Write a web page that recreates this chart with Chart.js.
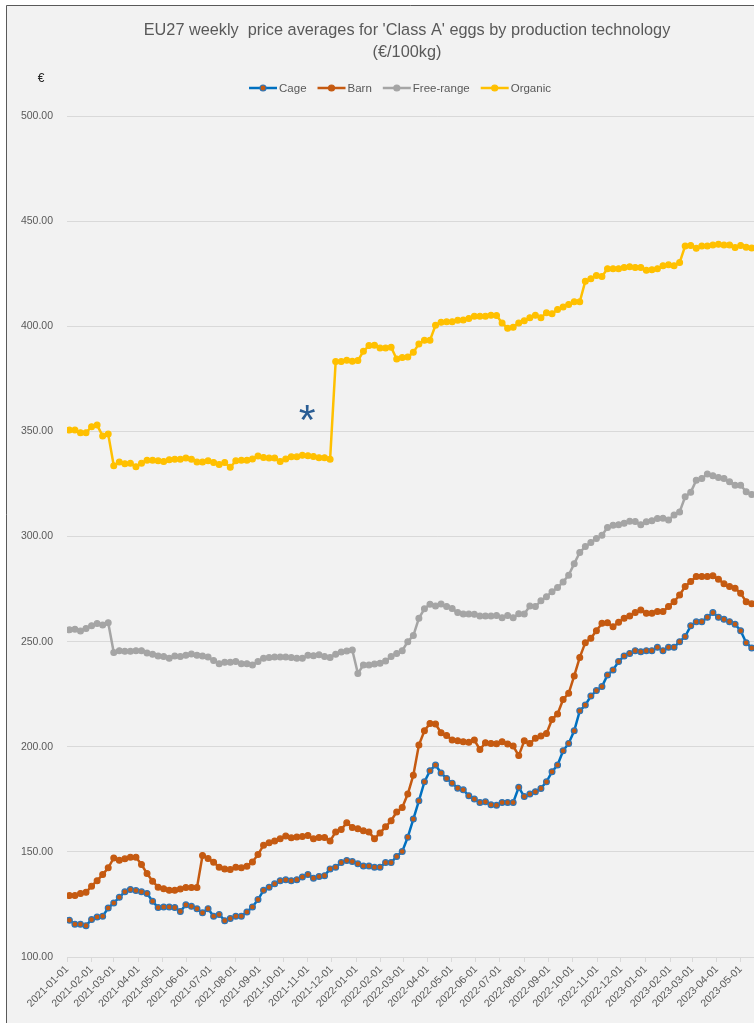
<!DOCTYPE html>
<html>
<head>
<meta charset="utf-8">
<script src="https://cdn.jsdelivr.net/npm/chart.js@4.4.1/dist/chart.umd.min.js"></script>
<style>
  html, body { margin: 0; padding: 0; background: #fff; overflow: hidden; width: 754px; height: 1023px; }
  canvas { display: block; }
</style>
</head>
<body>
<canvas id="eggChart" width="814" height="1023"></canvas>
<script>
// weekly series, first point is the week of 2021-01-04
const FIRST_WEEK = "2021-01-04";

const monthLabels = [
  "2021-01-01", "2021-02-01", "2021-03-01", "2021-04-01", "2021-05-01", "2021-06-01",
  "2021-07-01", "2021-08-01", "2021-09-01", "2021-10-01", "2021-11-01", "2021-12-01",
  "2022-01-01", "2022-02-01", "2022-03-01", "2022-04-01", "2022-05-01", "2022-06-01",
  "2022-07-01", "2022-08-01", "2022-09-01", "2022-10-01", "2022-11-01", "2022-12-01",
  "2023-01-01", "2023-02-01", "2023-03-01", "2023-04-01", "2023-05-01",
];

const yTicks = [100, 150, 200, 250, 300, 350, 400, 450, 500];

const cage = [
  117.5, 115.6, 115.6, 114.9, 117.8, 119.0, 119.4, 123.3, 125.7, 128.4,
  131.0, 132.1, 131.6, 131.0, 130.2, 126.5, 123.5, 123.8, 123.8, 123.5,
  121.7, 124.8, 124.1, 122.9, 121.0, 123.0, 119.4, 120.2, 117.3, 118.3,
  119.4, 119.4, 121.4, 123.8, 127.3, 131.7, 133.2, 134.8, 136.3, 136.7,
  136.3, 136.8, 138.0, 139.2, 137.5, 138.3, 138.7, 141.9, 142.7, 144.9,
  145.9, 145.4, 144.3, 143.3, 143.3, 142.7, 142.7, 144.9, 144.9, 147.8,
  150.2, 157.0, 165.6, 174.3, 183.3, 188.6, 191.3, 187.5, 184.9, 182.7,
  180.3, 179.5, 176.7, 175.1, 173.5, 173.8, 172.4, 172.2, 173.5, 173.5,
  173.5, 180.7, 176.3, 177.5, 178.6, 180.2, 183.3, 188.1, 191.3, 198.1,
  201.6, 207.6, 217.1, 219.8, 224.1, 226.7, 228.6, 234.1, 236.5, 240.5,
  243.2, 244.4, 245.7, 245.2, 245.7, 245.7, 247.3, 245.7, 247.3, 247.3,
  250.0, 252.4, 257.5, 259.4, 259.5, 261.6, 263.8, 261.6, 260.6, 259.5,
  258.3, 255.2, 249.5, 247.0,
];

const barn = [
  129.2, 129.2, 130.2, 130.8, 133.7, 136.3, 139.2, 142.4, 147.1, 146.0,
  146.7, 147.5, 147.5, 144.0, 139.7, 136.0, 133.2, 132.5, 131.7, 131.7,
  132.4, 133.0, 133.0, 133.0, 148.3, 146.8, 145.1, 142.7, 141.9, 141.6,
  142.7, 142.4, 143.2, 145.2, 148.7, 153.2, 154.3, 155.2, 156.2, 157.5,
  156.7, 157.1, 157.3, 157.8, 156.2, 156.8, 156.8, 155.2, 159.5, 160.6,
  163.8, 161.6, 161.0, 160.0, 159.4, 156.3, 159.0, 161.9, 164.8, 169.0,
  171.1, 177.5, 186.5, 200.8, 207.6, 211.1, 210.8, 206.7, 205.4, 203.2,
  202.9, 202.4, 202.1, 203.2, 198.7, 201.9, 201.6, 201.4, 202.4, 201.3,
  200.3, 195.8, 202.8, 201.6, 204.0, 205.1, 206.3, 213.0, 215.6, 222.5,
  225.4, 233.7, 242.5, 249.5, 251.6, 255.2, 258.7, 259.0, 257.1, 259.2,
  261.1, 262.2, 263.8, 265.1, 263.5, 263.5, 264.3, 264.3, 266.7, 269.0,
  272.2, 276.2, 278.6, 281.0, 281.0, 281.0, 281.3, 279.7, 277.5, 276.2,
  275.4, 273.0, 269.0, 268.0,
];

const freeRange = [
  255.6, 255.9, 255.1, 256.3, 257.6, 258.6, 257.9, 259.0, 244.8, 245.7,
  245.4, 245.4, 245.7, 245.7, 244.6, 244.0, 243.2, 242.9, 242.1, 243.2,
  242.9, 243.5, 244.1, 243.5, 243.2, 242.7, 241.0, 239.5, 240.2, 240.2,
  240.5, 239.5, 239.5, 238.9, 240.5, 242.1, 242.4, 242.7, 242.7, 242.7,
  242.4, 242.1, 242.1, 243.5, 243.3, 243.7, 242.9, 242.5, 244.0, 245.1,
  245.6, 246.0, 234.9, 238.9, 238.9, 239.4, 239.7, 240.8, 242.9, 244.4,
  245.7, 250.0, 252.9, 261.1, 265.6, 267.8, 267.0, 267.9, 266.7, 265.7,
  263.8, 263.2, 263.2, 263.0, 262.2, 262.2, 262.2, 262.4, 261.4, 262.4,
  261.4, 263.3, 263.1, 267.0, 266.7, 269.4, 271.4, 273.7, 275.7, 278.4,
  281.6, 287.1, 292.4, 295.2, 297.1, 299.0, 300.6, 304.3, 305.4, 305.6,
  306.3, 307.3, 307.1, 305.6, 307.0, 307.5, 308.6, 308.7, 307.9, 310.2,
  311.7, 318.9, 321.0, 326.8, 327.6, 329.7, 328.9, 328.1, 327.6, 326.0,
  324.4, 324.4, 321.3, 320.0,
];

const organic = [
  350.6, 350.6, 349.4, 349.4, 352.2, 353.0, 347.8, 348.7, 333.7, 335.4,
  334.6, 334.8, 333.2, 334.9, 336.3, 336.3, 336.0, 335.7, 336.5, 336.8,
  336.8, 337.3, 336.8, 335.4, 335.4, 336.0, 335.2, 334.3, 335.2, 332.9,
  336.0, 336.3, 336.3, 336.9, 338.3, 337.6, 337.3, 337.3, 335.7, 336.9,
  337.9, 337.9, 338.6, 338.4, 338.1, 337.5, 337.5, 336.8, 383.2, 383.2,
  383.8, 383.3, 383.7, 388.1, 390.8, 391.0, 389.7, 389.7, 390.0, 384.4,
  385.1, 385.4, 387.6, 391.6, 393.3, 393.3, 400.5, 401.9, 402.1, 402.2,
  402.9, 403.0, 403.7, 404.8, 404.8, 404.8, 405.2, 405.1, 401.6, 399.0,
  399.5, 401.6, 402.6, 404.1, 405.2, 404.1, 406.4, 406.0, 408.0, 409.1,
  410.4, 411.6, 411.6, 421.4, 422.6, 424.1, 423.7, 427.4, 427.4, 427.4,
  428.0, 428.3, 428.0, 428.0, 426.6, 426.9, 427.4, 428.8, 429.2, 428.8,
  430.3, 438.2, 438.4, 437.1, 438.2, 438.2, 438.7, 439.0, 438.7, 438.7,
  437.4, 438.4, 437.6, 437.2,
];

const FONT = "'Liberation Sans', Arial, sans-serif";
const TXT = "#595959";

function dayOf(s) {
  const [y, m, d] = s.split("-").map(Number);
  return (Date.UTC(y, m - 1, d) - Date.UTC(2021, 0, 1)) / 86400000;
}

const start = dayOf(FIRST_WEEK);
const monthDays = monthLabels.map(dayOf);
const labelAt = {};
monthLabels.forEach((l, i) => { labelAt[monthDays[i]] = l; });

function pts(vals) {
  return vals.map((v, i) => ({ x: start + i * 7, y: v }));
}

function series(label, values, color, dotFill, dotStroke) {
  return {
    label,
    data: pts(values),
    borderColor: color,
    borderWidth: 2.5,
    pointRadius: 2.9,
    pointBorderWidth: 1.2,
    pointBackgroundColor: dotFill || color,
    pointBorderColor: dotStroke || color,
  };
}

const extras = {
  id: "extras",
  beforeDraw(chart) {
    const { ctx, width, height } = chart;
    ctx.save();
    ctx.fillStyle = "#ffffff";
    ctx.fillRect(0, 0, width, height);
    ctx.fillStyle = "#f2f2f2";
    ctx.fillRect(6, 5, width - 6, height - 5);
    ctx.strokeStyle = "#595959";
    ctx.lineWidth = 1;
    ctx.beginPath();
    ctx.moveTo(6.5, height);
    ctx.lineTo(6.5, 5.5);
    ctx.lineTo(width, 5.5);
    ctx.stroke();
    ctx.restore();
  },
  afterDraw(chart) {
    const { ctx } = chart;
    ctx.save();

    // legend (line + marker, like the spreadsheet one)
    ctx.font = "11.5px " + FONT;
    ctx.textBaseline = "middle";
    ctx.textAlign = "left";
    const sym = 28, gapT = 2, gapI = 11;
    const items = chart.data.datasets.map((ds) => ({
      text: ds.label, line: ds.borderColor, fill: ds.pointBackgroundColor, stroke: ds.pointBorderColor,
    }));
    const widths = items.map((it) => sym + gapT + ctx.measureText(it.text).width);
    const total = widths.reduce((a, b) => a + b, 0) + gapI * (items.length - 1);
    let x = 400 - total / 2;
    const y = 88;
    items.forEach((it, i) => {
      ctx.strokeStyle = it.line;
      ctx.lineWidth = 2.5;
      ctx.beginPath();
      ctx.moveTo(x, y);
      ctx.lineTo(x + sym, y);
      ctx.stroke();
      ctx.beginPath();
      ctx.arc(x + sym / 2, y, 3, 0, Math.PI * 2);
      ctx.fillStyle = it.fill;
      ctx.fill();
      ctx.lineWidth = 1.2;
      ctx.strokeStyle = it.stroke;
      ctx.stroke();
      ctx.fillStyle = TXT;
      ctx.fillText(it.text, x + sym + gapT, y + 0.5);
      x += widths[i] + gapI;
    });

    // unit label above the value axis
    ctx.fillStyle = "#262626";
    ctx.font = "12px " + FONT;
    ctx.textAlign = "center";
    ctx.fillText("€", 41, 79);

    // asterisk marking the organic series break
    const px = chart.scales.x.getPixelForValue(dayOf("2021-10-31"));
    const py = chart.scales.y.getPixelForValue(358.8);
    ctx.textAlign = "left";
    ctx.textBaseline = "alphabetic";
    ctx.font = "100px " + FONT;
    let m = ctx.measureText("*");
    const size = 100 * 16 / (m.actualBoundingBoxRight + m.actualBoundingBoxLeft);
    ctx.font = size + "px " + FONT;
    m = ctx.measureText("*");
    ctx.fillStyle = "#2A5D94";
    ctx.fillText("*",
      px - (m.actualBoundingBoxRight - m.actualBoundingBoxLeft) / 2,
      py - (m.actualBoundingBoxDescent - m.actualBoundingBoxAscent) / 2);
    ctx.restore();
  },
};

new Chart(document.getElementById("eggChart"), {
  type: "line",
  data: {
    datasets: [
      series("Cage", cage, "#0070C0", "#C55A11", "#2E75B6"),
      series("Barn", barn, "#C55A11"),
      series("Free-range", freeRange, "#A5A5A5"),
      series("Organic", organic, "#FFC000"),
    ],
  },
  options: {
    responsive: false,
    animation: false,
    events: [],
    elements: { line: { tension: 0 } },
    layout: { padding: 0 },
    plugins: {
      legend: { display: false },
      tooltip: { enabled: false },
      title: {
        display: true,
        text: ["EU27 weekly  price averages for 'Class A' eggs by production technology", "(€/100kg)"],
        color: TXT,
        font: { family: FONT, size: 16.3, weight: "normal", lineHeight: 1.35 },
        padding: { top: 20, bottom: 52 },
      },
    },
    scales: {
      x: {
        type: "linear",
        min: 0,
        max: 936,
        afterBuildTicks: (scale) => { scale.ticks = monthDays.map((v) => ({ value: v })); },
        afterFit: (scale) => { scale.height = 66; },
        grid: { drawOnChartArea: false, color: "#d9d9d9", tickLength: 5 },
        border: { color: "#d9d9d9" },
        ticks: {
          autoSkip: false,
          maxRotation: 45,
          minRotation: 45,
          padding: 1,
          color: TXT,
          font: { family: FONT, size: 10.5 },
          callback: (v) => labelAt[v] || "",
        },
      },
      y: {
        min: 100,
        max: 500,
        afterBuildTicks: (scale) => { scale.ticks = yTicks.map((v) => ({ value: v })); },
        afterFit: (scale) => { scale.width = 67; },
        grid: { color: "#d9d9d9", drawTicks: false },
        border: { display: false },
        ticks: {
          padding: 14,
          color: TXT,
          font: { family: FONT, size: 10.5 },
          callback: (v) => Number(v).toFixed(2),
        },
      },
    },
  },
  plugins: [extras],
});
</script>
</body>
</html>
